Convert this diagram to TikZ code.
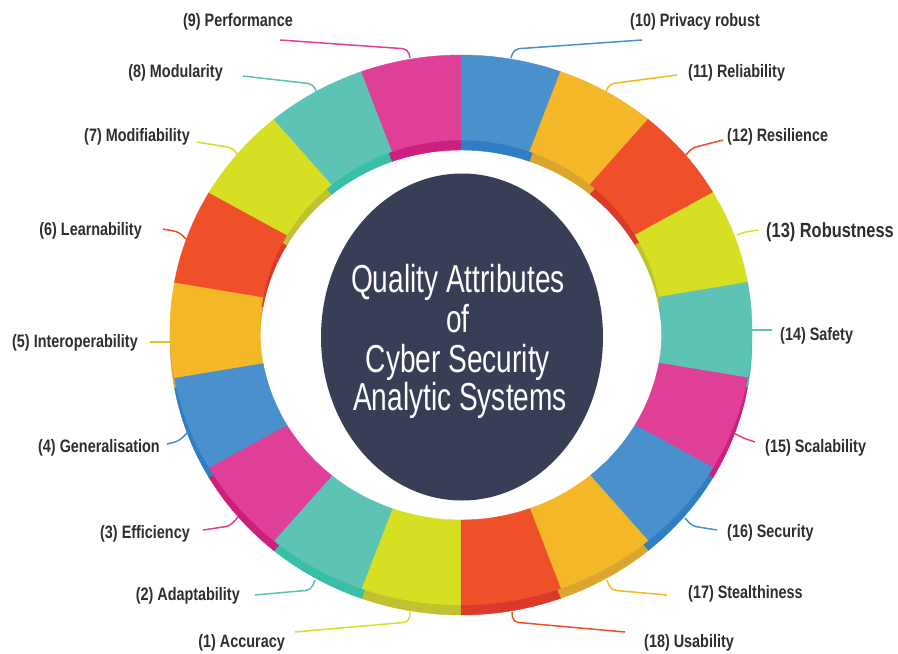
\documentclass[tikz,border=0pt]{standalone}
\usepackage{fontspec}
\usetikzlibrary{shapes.geometric}
\setmainfont{Liberation Sans}
\newfontfamily\labelfont{Liberation Sans}[FakeStretch=0.8]
\newfontfamily\titlefont{Liberation Sans}[FakeStretch=0.72]
\definecolor{cyg}{HTML}{D7DF23}\definecolor{dyg}{HTML}{C0C133}
\definecolor{cte}{HTML}{5DC4B5}\definecolor{dte}{HTML}{39BFA7}
\definecolor{cpk}{HTML}{E03F97}\definecolor{dpk}{HTML}{CC1F7F}
\definecolor{cbl}{HTML}{4A90CD}\definecolor{dbl}{HTML}{2F7DC3}
\definecolor{cyl}{HTML}{F4B728}\definecolor{dyl}{HTML}{DCA52E}
\definecolor{crd}{HTML}{EF5029}\definecolor{drd}{HTML}{DA3A28}
\definecolor{navy}{HTML}{373E55}
\definecolor{txt}{HTML}{2E2E2E}
\begin{document}
\begin{tikzpicture}[x=1pt,y=-1pt,
  lbl/.style={font=\labelfont\bfseries\fontsize{18}{21}\selectfont, text=txt, inner sep=0pt},
  ttl/.style={font=\titlefont\fontsize{39}{41}\selectfont, text=white, inner sep=0pt},
  conn/.style={line width=1.5pt, rounded corners=5pt}]
\useasboundingbox (0,0) rectangle (898,654);
\fill[white] (0,0) rectangle (898,654);
\def\cx{461}\def\cy{330}
\def\seglist{1/yg,2/te,3/pk,4/bl,5/yl,6/rd,7/yg,8/te,9/pk,10/bl,11/yl,12/rd,13/yg,14/te,15/pk,16/bl,17/yl,18/rd}
% side walls (extrusion)
\foreach \i/\c in \seglist {
  \pgfmathsetmacro\a{270-20*\i}\pgfmathsetmacro\b{290-20*\i}
  \filldraw[fill=d\c, draw=d\c, line width=0.4pt, shift={(0,10)}]
    plot[domain=\a:\b, samples=16, variable=\t] ({\cx+291*cos(\t)},{\cy-275*sin(\t)})
    -- plot[domain=\b:\a, samples=16, variable=\t] ({\cx+201*cos(\t)},{\cy-190*sin(\t)}) -- cycle;
}
% top faces
\foreach \i/\c in \seglist {
  \pgfmathsetmacro\a{270-20*\i}\pgfmathsetmacro\b{290-20*\i}
  \filldraw[fill=c\c, draw=c\c, line width=0.4pt]
    plot[domain=\a:\b, samples=16, variable=\t] ({\cx+291*cos(\t)},{\cy-275*sin(\t)})
    -- plot[domain=\b:\a, samples=16, variable=\t] ({\cx+201*cos(\t)},{\cy-190*sin(\t)}) -- cycle;
}
% centre
\node[ellipse, fill=navy, minimum width=282pt, minimum height=327pt, inner sep=0pt] (hub) at (462,337) {};
\node[ttl, anchor=base] (t1) at (458,292) {Quality Attributes};
\node[ttl, anchor=base] (t2) at (458,332) {of};
\node[ttl, anchor=base] (t3) at (458,372) {Cyber Security};
\node[ttl, anchor=base] (t4) at (460,410) {Analytic Systems};
% labels left
\node[lbl, anchor=base east] (l9) at (293,26) {(9) Performance};
\node[lbl, anchor=base east] (l8) at (223,77) {(8) Modularity};
\node[lbl, anchor=base east] (l7) at (190,141) {(7) Modifiability};
\node[lbl, anchor=base east] (l6) at (142,235) {(6) Learnability};
\node[lbl, anchor=base east] (l5) at (138,347) {(5) Interoperability};
\node[lbl, anchor=base east] (l4) at (160,452) {(4) Generalisation};
\node[lbl, anchor=base east] (l3) at (190,538) {(3) Efficiency};
\node[lbl, anchor=base east] (l2) at (240,600) {(2) Adaptability};
\node[lbl, anchor=base east] (l1) at (285,647) {(1) Accuracy};
% labels right
\node[lbl, anchor=base west] (l10) at (630,26) {(10) Privacy robust};
\node[lbl, anchor=base west] (l11) at (688,77) {(11) Reliability};
\node[lbl, anchor=base west] (l12) at (727,141) {(12) Resilience};
\node[lbl, anchor=base west, font=\labelfont\bfseries\fontsize{20.5}{23}\selectfont] (l13) at (766,237) {(13) Robustness};
\node[lbl, anchor=base west] (l14) at (780,340) {(14) Safety};
\node[lbl, anchor=base west] (l15) at (765,452) {(15) Scalability};
\node[lbl, anchor=base west] (l16) at (727,537) {(16) Security};
\node[lbl, anchor=base west] (l17) at (688,598) {(17) Stealthiness};
\node[lbl, anchor=base west] (l18) at (644,647) {(18) Usability};
% connectors
\foreach \n/\c/\ex/\ey/\kx/\ky/\rx/\ry in {
  9/pk/280/40/408/49/410/58,
  8/te/243/76/313/84/317/93,
  7/yg/197/142/233/148/238/156,
  6/rd/163/229/179/232/186/239,
  5/yl/150/342/160/342/171/342,
  4/bl/167/444/179/441/188/432,
  3/pk/203/530/230/526/238/517,
  2/te/255/595/311/590/315/580,
  1/yg/295/632/409/622/410/612,
  10/bl/642/40/514/49/511/58,
  11/yl/677/75/609/84/606/92,
  12/rd/723/140/692/148/685/156,
  13/yg/758/230/745/232/737/235,
  14/te/772/330/762/330/752/330,
  15/pk/755/442/743/438/734/433,
  16/bl/717/530/692/526/685/518,
  17/yl/667/595/611/590/607/580,
  18/rd/625/632/513/622/512/612} {
  \coordinate (e\n) at (\ex,\ey);
  \coordinate (k\n) at (\kx,\ky);
  \coordinate (r\n) at (\rx,\ry);
  \draw[conn, draw=c\c] (e\n) -- (k\n) -- (r\n);
}
\end{tikzpicture}
\end{document}
